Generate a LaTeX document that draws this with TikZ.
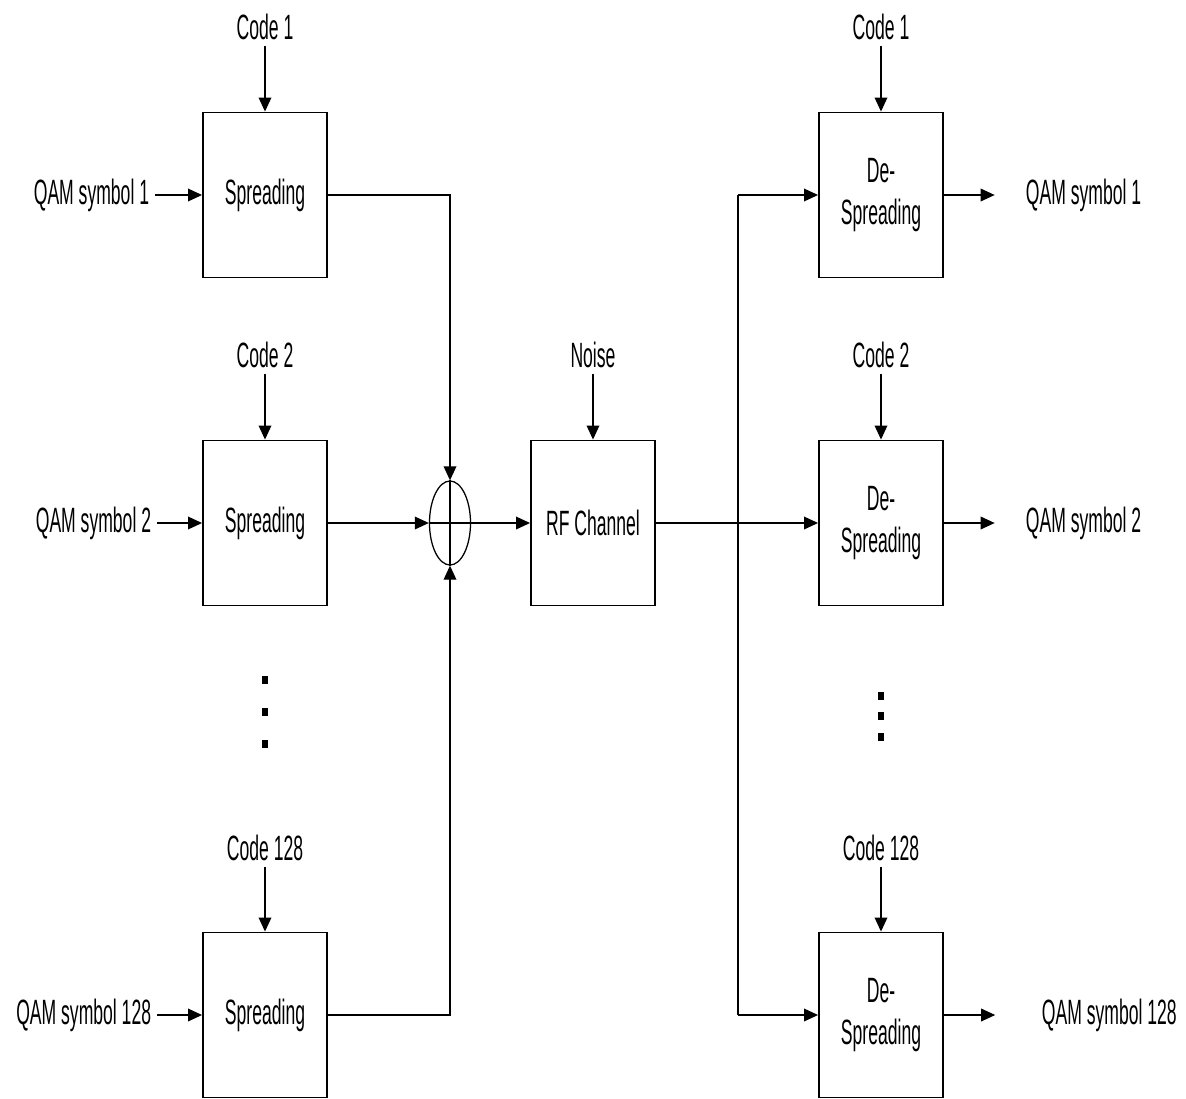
\documentclass[tikz,border=0pt]{standalone}
\usepackage{fontspec}
\setmainfont{Liberation Sans}[FakeStretch=0.5]
\usetikzlibrary{shapes.geometric,arrows.meta}

\tikzset{
  blk/.style={draw,line width=1.3pt,minimum width=3.1cm,minimum height=4.125cm,align=center},
  arr/.style={line width=1pt,-{Triangle[length=10pt,width=9pt]}},
  lbl/.style={inner sep=4pt},
  vdot/.style={fill,inner sep=0pt,minimum width=0.15cm,minimum height=0.22cm}
}

\begin{document}
\begin{tikzpicture}[x=0.025cm,y=-0.025cm,font=\fontsize{25}{30}\selectfont]
  \useasboundingbox (0,0) rectangle (1186,1099);

  % transmitter side
  \node [blk] (s1) at (265,195) {Spreading};
  \node [blk] (s2) at (265,523) {Spreading};
  \node [blk] (s3) at (265,1015) {Spreading};

  \node [lbl] (c1) at (265,27) {Code 1};
  \node [lbl] (c2) at (265,355) {Code 2};
  \node [lbl] (c3) at (265,848) {Code 128};

  \node [lbl,anchor=east] (q1) at (155,195) {QAM symbol 1};
  \node [lbl,anchor=east] (q2) at (157,523) {QAM symbol 2};
  \node [lbl,anchor=east] (q3) at (157,1015) {QAM symbol 128};

  \draw[arr] (c1) -- (s1);
  \draw[arr] (c2) -- (s2);
  \draw[arr] (c3) -- (s3);
  \draw[arr] (q1) -- (s1);
  \draw[arr] (q2) -- (s2);
  \draw[arr] (q3) -- (s3);

  \foreach \y [count=\i] in {680,712,744}
    \node [vdot] (ldot\i) at (265,\y) {};

  % adder and channel
  \node [draw,ellipse,line width=0.9pt,minimum width=1.025cm,minimum height=2.1cm,inner sep=0pt] (add) at (450,523) {};
  \draw[line width=0.9pt] (add.north) -- (add.south) (add.west) -- (add.east);

  \node [blk] (rf) at (593,523) {RF Channel};
  \node [lbl] (n) at (593,355) {Noise};

  \draw[arr] (s1) -| (add);
  \draw[arr] (s3) -| (add);
  \draw[arr] (s2) -- (add);
  \draw[arr] (add) -- (rf);
  \draw[arr] (n) -- (rf);

  % receiver side
  \node [blk] (d1) at (881,195) {De-\\Spreading};
  \node [blk] (d2) at (881,523) {De-\\Spreading};
  \node [blk] (d3) at (881,1015) {De-\\Spreading};

  \node [lbl] (e1) at (881,27) {Code 1};
  \node [lbl] (e2) at (881,355) {Code 2};
  \node [lbl] (e3) at (881,848) {Code 128};

  \node [lbl,anchor=west] (r1) at (1020,195) {QAM symbol 1};
  \node [lbl,anchor=west] (r2) at (1020,523) {QAM symbol 2};
  \node [lbl,anchor=west] (r3) at (1036,1015) {QAM symbol 128};

  \coordinate (br) at (738,523);
  \draw[line width=1pt] (br |- d1) -- (br |- d3);
  \draw[arr] (rf) -- (d2);
  \draw[arr] (br |- d1) -- (d1);
  \draw[arr] (br |- d3) -- (d3);

  \draw[arr] (e1) -- (d1);
  \draw[arr] (e2) -- (d2);
  \draw[arr] (e3) -- (d3);
  \draw[arr,shorten >=18pt] (d1) -- (r1);
  \draw[arr,shorten >=18pt] (d2) -- (r2);
  \draw[arr,shorten >=29pt] (d3) -- (r3);

  \foreach \y [count=\i] in {696,716,737}
    \node [vdot] (rdot\i) at (881,\y) {};
\end{tikzpicture}
\end{document}
